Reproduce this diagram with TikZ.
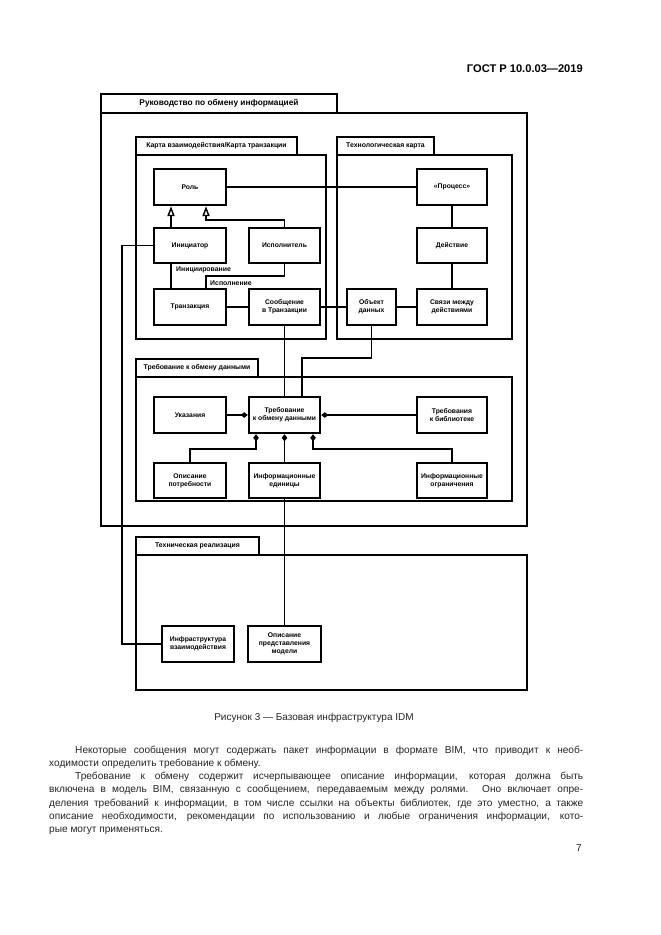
\documentclass[tikz,border=0pt]{standalone}
\usepackage{fontspec}
\setmainfont{Liberation Sans}
\usetikzlibrary{arrows.meta}
\newcommand\bx[6]{\node[box, minimum width={(#4-#2)*0.9pt}, minimum height={(#5-#3)*0.9pt}] (#1) at ({(#2+#4)/2},{(#3+#5)/2}) {#6};}
\newcommand\tb[7][]{\node[tab, #1, minimum width={(#5-#3)*0.9pt}, minimum height={(#6-#4)*0.9pt}] (#2) at ({(#3+#5)/2},{(#4+#6)/2}) {#7};}
\begin{document}
\begin{tikzpicture}[x=0.9pt,y=-0.9pt,
  frame/.style={draw, line width=1.5pt},
  tab/.style={draw, line width=1.5pt, inner sep=0pt, font=\fontsize{6.2}{7}\selectfont\bfseries},
  box/.style={draw, line width=2.2pt, inner sep=0.5pt, align=center, font=\fontsize{6.1}{7.4}\selectfont\bfseries},
  conn/.style={line width=1.5pt},
  gen/.style={conn, -{Triangle[open, length=9pt, width=6.5pt, line width=1.3pt]}},
  agg/.style={conn, -{Diamond[length=6.5pt, width=5pt]}},
  lbl/.style={font=\fontsize{6.2}{7}\selectfont\bfseries, inner sep=0pt},
  body/.style={font=\fontsize{9.1}{12}\selectfont, inner sep=0pt, anchor=base west, text=black!85},
  ]
\useasboundingbox[fill=white] (0,0) rectangle (661,935);

% header
\node[font=\fontsize{10}{12}\selectfont\bfseries, inner sep=0pt, anchor=base east] (hdr) at (583,72) {ГОСТ Р 10.0.03—2019};

% packages
\draw[frame] (101,113) rectangle (527,526);
\tb[font=\fontsize{7.5}{9}\selectfont\bfseries]{pGuide}{101}{94}{337}{113}{Руководство по обмену информацией}
\draw[frame] (136,155) rectangle (326,339);
\tb{pMap}{136}{137}{297}{155}{Карта взаимодействия/Карта транзакции}
\draw[frame] (337,155) rectangle (512,339);
\tb{pProc}{337}{137}{434}{155}{Технологическая карта}
\draw[frame] (136,377) rectangle (512,501);
\tb{pReq}{136}{359}{258}{377}{Требование к обмену данными}
\draw[frame] (136,555) rectangle (527,690);
\tb{pTech}{136}{537}{259}{555}{Техническая реализация}

% boxes
\bx{role}{154}{169}{226}{205}{Роль}
\bx{init}{154}{228}{226}{263}{Инициатор}
\bx{exec}{249}{228}{320}{263}{Исполнитель}
\bx{trans}{154}{289}{226}{325}{Транзакция}
\bx{msg}{249}{289}{320}{325}{Сообщение\\в Транзакции}
\bx{proc}{417}{169}{487}{205}{«Процесс»}
\bx{act}{417}{228}{487}{263}{Действие}
\bx{links}{417}{289}{487}{325}{Связи между\\действиями}
\bx{dobj}{347}{289}{396}{325}{Объект\\данных}
\bx{guide}{154}{397}{226}{433}{Указания}
\bx{req}{249}{397}{320}{433}{Требование\\к обмену данными}
\bx{lib}{417}{397}{487}{433}{Требования\\к библиотеке}
\bx{need}{154}{463}{226}{498}{Описание\\потребности}
\bx{units}{249}{463}{320}{498}{Информационные\\единицы}
\bx{cons}{417}{463}{487}{498}{Информационные\\ограничения}
\bx{infra}{162}{626}{234}{662}{Инфраструктура\\взаимодействия}
\bx{model}{248}{626}{321}{662}{Описание\\представления\\модели}

% helper coordinates
\coordinate (gx1) at (171,0);
\coordinate (gx2) at (206,220);
\coordinate (ex1) at (206,276);
\coordinate (dj) at (302,358);
\coordinate (nd) at (256,449);
\coordinate (cn) at (313,449);
\coordinate (lx) at (122,0);

% connectors
\draw[conn] (role) -- (proc);
\draw[gen] (init.north -| gx1) -- (role.south -| gx1);
\draw[gen] (exec.north) |- (gx2) -- (role.south -| gx2);
\draw[conn] (init.south -| gx1) -- (trans.north -| gx1);
\draw[conn] (exec.south) |- (ex1) -- (trans.north -| ex1);
\node[lbl, anchor=west] (lInit) at (176,270) {Инициирование};
\node[lbl, anchor=west] (lExec) at (210,283.5) {Исполнение};
\draw[conn] (trans) -- (msg);
\draw[conn] (msg) -- (dobj);
\draw[conn] (dobj) -- (links);
\draw[conn] (proc) -- (act);
\draw[conn] (act) -- (links);
\draw[conn] (msg.south) -- (req.north);
\draw[conn] (dobj.south) |- (dj) -- (req.north -| dj);
\draw[agg] (guide) -- (req);
\draw[agg] (lib) -- (req);
\draw[agg] (need.north) |- (nd) -- (req.south -| nd);
\draw[agg] (units) -- (req);
\draw[agg] (cons.north) |- (cn) -- (req.south -| cn);
\draw[conn] (units.south) -- (model.north);
\draw[conn] (init.west) -- (init.west -| lx) |- (infra.west);

% caption
\node[font=\fontsize{9}{11}\selectfont, inner sep=0pt, text=black!85] (cap) at (314,718) {Рисунок 3 — Базовая инфраструктура IDM};

% body text
\node[body] (t1) at (75,753) {\makebox[457.2pt][s]{Некоторые сообщения могут содержать пакет информации в формате BIM, что приводит к необ-}};
\node[body] (t2) at (49,766.3) {ходимости определить требование к обмену.};
\node[body] (t3) at (75,779.6) {\makebox[457.2pt][s]{Требование к обмену содержит исчерпывающее описание информации, которая должна быть}};
\node[body] (t4) at (49,792.9) {\makebox[480.6pt][s]{включена в модель BIM, связанную с сообщением, передаваемым между ролями. Оно включает опре-}};
\node[body] (t5) at (49,806.2) {\makebox[480.6pt][s]{деления требований к информации, в том числе ссылки на объекты библиотек, где это уместно, а также}};
\node[body] (t6) at (49,819.5) {\makebox[480.6pt][s]{описание необходимости, рекомендации по использованию и любые ограничения информации, кото-}};
\node[body] (t7) at (49,832.8) {рые могут применяться.};
\node[body, anchor=base east] (pg) at (582,851) {7};
\end{tikzpicture}
\end{document}
